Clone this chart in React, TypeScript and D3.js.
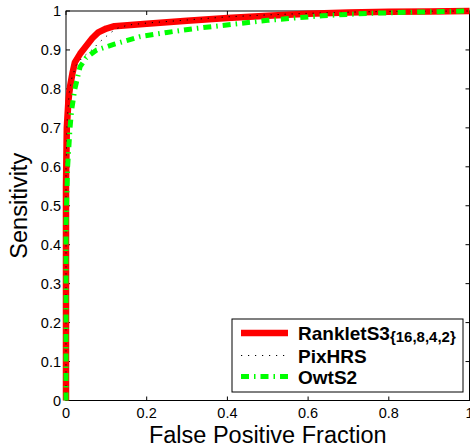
import React from 'react';
import * as d3 from 'd3';

// ROC points (false positive fraction, sensitivity)
const rankletFpr = [0, 0, 0.002, 0.006, 0.01, 0.016, 0.022, 0.035, 0.05, 0.065, 0.08, 0.1, 0.12, 0.16, 0.2, 0.3, 0.4, 0.5, 0.6, 0.7, 0.8, 0.9, 1];
const rankletSens = [0, 0.55, 0.7, 0.77, 0.806, 0.84, 0.868, 0.89, 0.91, 0.93, 0.945, 0.955, 0.961, 0.964, 0.967, 0.975, 0.982, 0.988, 0.993, 0.996, 0.998, 0.999, 1];

const pixFpr = [0, 0, 0.003, 0.008, 0.015, 0.025, 0.04, 0.064, 0.084, 0.109, 0.125, 0.154, 0.2, 0.3, 0.4, 0.5, 0.6, 0.7, 0.8, 1];
const pixSens = [0, 0.6, 0.72, 0.79, 0.83, 0.86, 0.88, 0.9, 0.921, 0.943, 0.955, 0.964, 0.969, 0.977, 0.985, 0.99, 0.994, 0.997, 0.999, 1];

const owtFpr = [0, 0, 0.004, 0.01, 0.014, 0.022, 0.035, 0.05, 0.076, 0.12, 0.183, 0.25, 0.32, 0.414, 0.5, 0.636, 0.75, 0.86, 1];
const owtSens = [0, 0.45, 0.6, 0.7, 0.746, 0.8, 0.857, 0.88, 0.9, 0.915, 0.934, 0.945, 0.955, 0.966, 0.976, 0.988, 0.994, 0.997, 1];

const xTicks = [0, 0.2, 0.4, 0.6, 0.8, 1];
const yTicks = [0, 0.1, 0.2, 0.3, 0.4, 0.5, 0.6, 0.7, 0.8, 0.9, 1];

const series = [
  { name: 'RankletS3', sub: '{16,8,4,2}', x: rankletFpr, y: rankletSens, color: '#ff0000', width: 6.5, dash: undefined as string | undefined },
  { name: 'PixHRS', sub: '', x: pixFpr, y: pixSens, color: '#000000', width: 1, dash: '1.2,5.8' },
  { name: 'OwtS2', sub: '', x: owtFpr, y: owtSens, color: '#00ff00', width: 5, dash: '8,5,1.5,5' },
];

export default function App() {
  const left = 66, right = 469.5, top = 11, bottom = 400.5;
  const x = d3.scaleLinear().domain([0, 1]).range([left, right]);
  const y = d3.scaleLinear().domain([0, 1]).range([bottom, top]);
  const font = '"Liberation Sans", Arial, Helvetica, sans-serif';

  const line = d3.line<[number, number]>()
    .x(d => x(d[0]))
    .y(d => y(d[1]));

  const tick = 4;
  const legX = 232, legY = 319, legW = 231, legH = 73;
  const rowY = [340, 362.5, 383.5];

  return (
    <svg width={470} height={446} style={{ position: 'absolute', left: 0, top: 0, background: '#fff' }} fontFamily={font}>
      <rect x={0} y={0} width={470} height={446} fill="#fff" />

      {/* box */}
      <rect x={left} y={top} width={right - left} height={bottom - top} fill="none" stroke="#000" strokeWidth={1} />

      {xTicks.map(t => (
        <g key={'x' + t}>
          <line x1={x(t)} x2={x(t)} y1={bottom} y2={bottom - tick} stroke="#000" />
          <line x1={x(t)} x2={x(t)} y1={top} y2={top + tick} stroke="#000" />
          <text x={x(t)} y={418} textAnchor="middle" fontSize={14.5}>{String(t)}</text>
        </g>
      ))}
      {yTicks.map(t => (
        <g key={'y' + t}>
          <line x1={left} x2={left + tick} y1={y(t)} y2={y(t)} stroke="#000" />
          <line x1={right} x2={right - tick} y1={y(t)} y2={y(t)} stroke="#000" />
          <text x={61} y={y(t) + 5} textAnchor="end" fontSize={14.5}>{String(t)}</text>
        </g>
      ))}

      {series.map(s => (
        <path key={s.name}
          d={line(s.x.map((v, i) => [v, s.y[i]] as [number, number])) || ''}
          fill="none" stroke={s.color} strokeWidth={s.width}
          strokeDasharray={s.dash} strokeLinejoin="round" />
      ))}

      <text x={(left + right) / 2} y={443} textAnchor="middle" fontSize={23.5}>False Positive Fraction</text>
      <text transform={`translate(27,${(top + bottom) / 2}) rotate(-90)`} textAnchor="middle" fontSize={23.5}>Sensitivity</text>

      {/* legend */}
      <rect x={legX} y={legY} width={legW} height={legH} fill="#fff" stroke="#000" strokeWidth={1} />
      {series.map((s, i) => (
        <g key={'leg' + s.name}>
          <line x1={241} x2={288} y1={rowY[i] - 7} y2={rowY[i] - 7} stroke={s.color} strokeWidth={s.width} strokeDasharray={s.dash} />
          <text x={298} y={rowY[i]} fontSize={19} fontWeight="bold">
            {s.name}
            {s.sub && <tspan fontSize={15} dy={2}>{s.sub}</tspan>}
          </text>
        </g>
      ))}
    </svg>
  );
}
